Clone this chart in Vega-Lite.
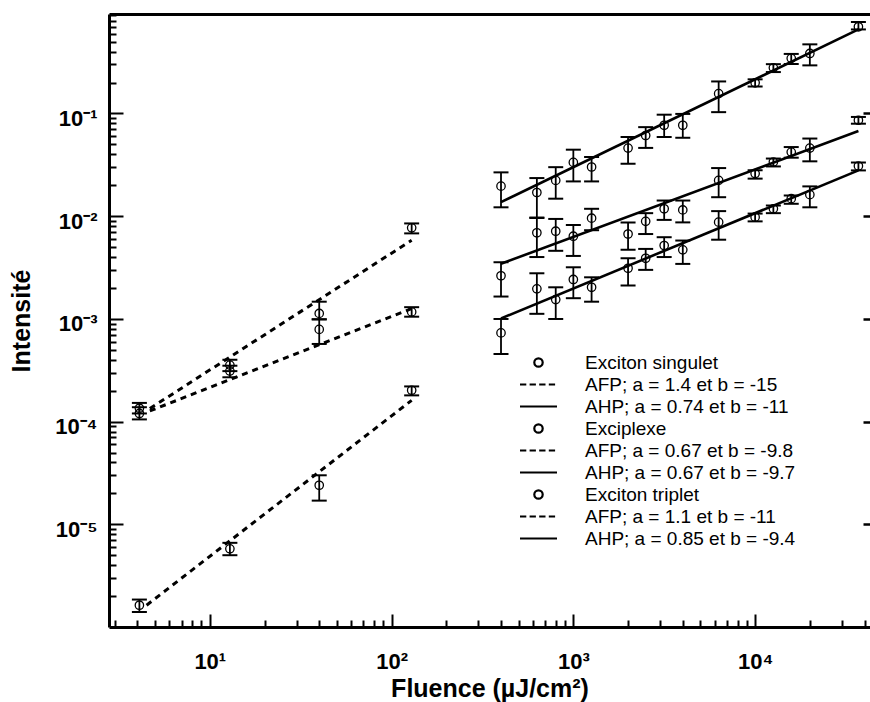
{
  "$schema": "https://vega.github.io/schema/vega-lite/v6.json",
  "autosize": "none",
  "width": 761,
  "height": 613,
  "padding": {"left": 109, "top": 14, "right": 0, "bottom": 75},
  "background": "white",
  "config": {"font": "Liberation Sans", "view": {"stroke": null}},
  "datasets": {
    "pts": [
      {"s": "Exciton singulet", "x": 4.1, "y": 0.000135, "lo": 0.00012, "hi": 0.000152},
      {"s": "Exciton singulet", "x": 12.9, "y": 0.000355, "lo": 0.00031, "hi": 0.0004},
      {"s": "Exciton singulet", "x": 40, "y": 0.00113, "lo": 0.00099, "hi": 0.00147},
      {"s": "Exciton singulet", "x": 129, "y": 0.0077, "lo": 0.0068, "hi": 0.0085},
      {"s": "Exciton singulet", "x": 400, "y": 0.0196, "lo": 0.0122, "hi": 0.0267},
      {"s": "Exciton singulet", "x": 630, "y": 0.017, "lo": 0.0097, "hi": 0.0235},
      {"s": "Exciton singulet", "x": 800, "y": 0.0223, "lo": 0.0148, "hi": 0.03},
      {"s": "Exciton singulet", "x": 1000, "y": 0.0334, "lo": 0.0218, "hi": 0.0444},
      {"s": "Exciton singulet", "x": 1260, "y": 0.0301, "lo": 0.0218, "hi": 0.0377},
      {"s": "Exciton singulet", "x": 2000, "y": 0.046, "lo": 0.0324, "hi": 0.059},
      {"s": "Exciton singulet", "x": 2500, "y": 0.061, "lo": 0.0462, "hi": 0.0736},
      {"s": "Exciton singulet", "x": 3160, "y": 0.0767, "lo": 0.059, "hi": 0.0973},
      {"s": "Exciton singulet", "x": 4000, "y": 0.0767, "lo": 0.058, "hi": 0.099},
      {"s": "Exciton singulet", "x": 6300, "y": 0.156, "lo": 0.103, "hi": 0.205},
      {"s": "Exciton singulet", "x": 10000, "y": 0.199, "lo": 0.183, "hi": 0.215},
      {"s": "Exciton singulet", "x": 12600, "y": 0.278, "lo": 0.253, "hi": 0.302},
      {"s": "Exciton singulet", "x": 15800, "y": 0.344, "lo": 0.303, "hi": 0.38},
      {"s": "Exciton singulet", "x": 20000, "y": 0.384, "lo": 0.294, "hi": 0.471},
      {"s": "Exciton singulet", "x": 37000, "y": 0.698, "lo": 0.658, "hi": 0.777},
      {"s": "Exciplexe", "x": 4.1, "y": 0.00012, "lo": 0.000105, "hi": 0.000138},
      {"s": "Exciplexe", "x": 12.9, "y": 0.00031, "lo": 0.00027, "hi": 0.00035},
      {"s": "Exciplexe", "x": 40, "y": 0.00079, "lo": 0.00057, "hi": 0.00099},
      {"s": "Exciplexe", "x": 129, "y": 0.00117, "lo": 0.00105, "hi": 0.0013},
      {"s": "Exciplexe", "x": 400, "y": 0.00263, "lo": 0.00165, "hi": 0.00356},
      {"s": "Exciplexe", "x": 630, "y": 0.00689, "lo": 0.004, "hi": 0.0096},
      {"s": "Exciplexe", "x": 800, "y": 0.00714, "lo": 0.0046, "hi": 0.0094},
      {"s": "Exciplexe", "x": 1000, "y": 0.00638, "lo": 0.0041, "hi": 0.0082},
      {"s": "Exciplexe", "x": 1260, "y": 0.00956, "lo": 0.0073, "hi": 0.0118},
      {"s": "Exciplexe", "x": 2000, "y": 0.0067, "lo": 0.0047, "hi": 0.0087},
      {"s": "Exciplexe", "x": 2500, "y": 0.0089, "lo": 0.0067, "hi": 0.0107},
      {"s": "Exciplexe", "x": 3160, "y": 0.0118, "lo": 0.0092, "hi": 0.0142},
      {"s": "Exciplexe", "x": 4000, "y": 0.0115, "lo": 0.0087, "hi": 0.0142},
      {"s": "Exciplexe", "x": 6300, "y": 0.0223, "lo": 0.0153, "hi": 0.0294},
      {"s": "Exciplexe", "x": 10000, "y": 0.026, "lo": 0.0232, "hi": 0.028},
      {"s": "Exciplexe", "x": 12600, "y": 0.0337, "lo": 0.0305, "hi": 0.0364},
      {"s": "Exciplexe", "x": 15800, "y": 0.0421, "lo": 0.0371, "hi": 0.0471},
      {"s": "Exciplexe", "x": 20000, "y": 0.046, "lo": 0.0342, "hi": 0.057},
      {"s": "Exciplexe", "x": 37000, "y": 0.0859, "lo": 0.0795, "hi": 0.0925},
      {"s": "Exciton triplet", "x": 4.1, "y": 0.00000163, "lo": 0.0000014, "hi": 0.00000185},
      {"s": "Exciton triplet", "x": 12.9, "y": 0.00000577, "lo": 0.000005, "hi": 0.0000066},
      {"s": "Exciton triplet", "x": 40, "y": 0.000024, "lo": 0.000017, "hi": 0.00003},
      {"s": "Exciton triplet", "x": 129, "y": 0.000202, "lo": 0.00018, "hi": 0.00022},
      {"s": "Exciton triplet", "x": 400, "y": 0.00073, "lo": 0.000455, "hi": 0.000998},
      {"s": "Exciton triplet", "x": 630, "y": 0.00196, "lo": 0.00112, "hi": 0.00278},
      {"s": "Exciton triplet", "x": 800, "y": 0.00154, "lo": 0.000998, "hi": 0.00203},
      {"s": "Exciton triplet", "x": 1000, "y": 0.00242, "lo": 0.00159, "hi": 0.00318},
      {"s": "Exciton triplet", "x": 1260, "y": 0.00203, "lo": 0.00147, "hi": 0.00254},
      {"s": "Exciton triplet", "x": 2000, "y": 0.00311, "lo": 0.00211, "hi": 0.00389},
      {"s": "Exciton triplet", "x": 2500, "y": 0.00389, "lo": 0.003, "hi": 0.0048},
      {"s": "Exciton triplet", "x": 3160, "y": 0.00518, "lo": 0.004, "hi": 0.00624},
      {"s": "Exciton triplet", "x": 4000, "y": 0.0047, "lo": 0.00343, "hi": 0.00579},
      {"s": "Exciton triplet", "x": 6300, "y": 0.00875, "lo": 0.0059, "hi": 0.0112},
      {"s": "Exciton triplet", "x": 10000, "y": 0.00978, "lo": 0.0089, "hi": 0.0106},
      {"s": "Exciton triplet", "x": 12600, "y": 0.0118, "lo": 0.0107, "hi": 0.0127},
      {"s": "Exciton triplet", "x": 15800, "y": 0.0148, "lo": 0.0132, "hi": 0.0159},
      {"s": "Exciton triplet", "x": 20000, "y": 0.0162, "lo": 0.0122, "hi": 0.0195},
      {"s": "Exciton triplet", "x": 37000, "y": 0.0308, "lo": 0.0279, "hi": 0.0333}
    ],
    "fits": [
      {"fit": "AFP singulet", "kind": "AFP", "x": 4.68, "y": 0.000134},
      {"fit": "AFP singulet", "kind": "AFP", "x": 129, "y": 0.00583},
      {"fit": "AFP exciplexe", "kind": "AFP", "x": 4.68, "y": 0.000127},
      {"fit": "AFP exciplexe", "kind": "AFP", "x": 129, "y": 0.00126},
      {"fit": "AFP triplet", "kind": "AFP", "x": 4.49, "y": 0.00000163},
      {"fit": "AFP triplet", "kind": "AFP", "x": 129, "y": 0.000161},
      {"fit": "AHP singulet", "kind": "AHP", "x": 400, "y": 0.0137},
      {"fit": "AHP singulet", "kind": "AHP", "x": 37000, "y": 0.659},
      {"fit": "AHP exciplexe", "kind": "AHP", "x": 400, "y": 0.00344},
      {"fit": "AHP exciplexe", "kind": "AHP", "x": 37000, "y": 0.0675},
      {"fit": "AHP triplet", "kind": "AHP", "x": 400, "y": 0.00101},
      {"fit": "AHP triplet", "kind": "AHP", "x": 37000, "y": 0.0279}
    ]
  },
  "resolve": {"axis": {"x": "independent", "y": "independent"}},
  "layer": [
    {
      "data": {"name": "fits"},
      "transform": [{"filter": "datum.kind === 'AFP'"}],
      "mark": {"type": "line", "color": "black", "strokeWidth": 3, "strokeDash": [6, 5]},
      "encoding": {
        "x": {"field": "x", "type": "quantitative",
          "scale": {"type": "log", "domain": [2.79, 42850], "nice": false},
          "axis": {"orient": "bottom", "values": [10, 100, 1000, 10000], "ticks": false, "grid": false,
            "domain": true, "domainColor": "black", "domainWidth": 3,
            "labelExpr": "'10' + ['⁰','¹','²','³','⁴','⁵','⁶'][round(abs(log(datum.value)/LN10))]",
            "labelFont": "Liberation Sans", "labelFontWeight": "bold", "labelFontSize": 22, "labelColor": "black",
            "labelPadding": 24, "labelFlush": false,
            "title": "Fluence (µJ/cm²)", "titleFont": "Liberation Sans", "titleFontWeight": "bold", "titleFontSize": 25, "titleColor": "black", "titlePadding": 4}},
        "y": {"field": "y", "type": "quantitative",
          "scale": {"type": "log", "domain": [0.000001, 0.93], "nice": false},
          "axis": {"orient": "left", "values": [0.00001, 0.0001, 0.001, 0.01, 0.1], "ticks": false, "grid": false,
            "domain": true, "domainColor": "black", "domainWidth": 3,
            "labelExpr": "'10⁻' + ['⁰','¹','²','³','⁴','⁵','⁶'][round(abs(log(datum.value)/LN10))]",
            "labelFont": "Liberation Sans", "labelFontWeight": "bold", "labelFontSize": 22, "labelColor": "black",
            "labelPadding": 12, "labelOffset": 5, "labelFlush": false,
            "title": "Intensité", "titleFont": "Liberation Sans", "titleFontWeight": "bold", "titleFontSize": 25, "titleColor": "black", "titlePadding": 20}},
        "detail": {"field": "fit"}
      }
    },
    {
      "data": {"name": "fits"},
      "transform": [{"filter": "datum.kind === 'AHP'"}],
      "mark": {"type": "line", "color": "black", "strokeWidth": 2.6},
      "encoding": {
        "x": {"field": "x", "type": "quantitative",
          "scale": {"type": "log", "domain": [2.79, 42850], "nice": false},
          "axis": {"orient": "bottom", "values": [10, 100, 1000, 10000], "labels": false, "domain": false, "grid": false,
            "ticks": true, "tickSize": -13, "tickWidth": 2, "tickColor": "black", "title": null}},
        "y": {"field": "y", "type": "quantitative",
          "scale": {"type": "log", "domain": [0.000001, 0.93], "nice": false},
          "axis": {"orient": "left", "values": [0.00001, 0.0001, 0.001, 0.01, 0.1], "labels": false, "domain": false, "grid": false,
            "ticks": true, "tickSize": -14, "tickWidth": 2, "tickColor": "black", "title": null}},
        "detail": {"field": "fit"}
      }
    },
    {
      "data": {"name": "pts"},
      "mark": {"type": "rule", "color": "black", "strokeWidth": 1.8, "opacity": 1},
      "encoding": {
        "x": {"field": "x", "type": "quantitative",
          "scale": {"type": "log", "domain": [2.79, 42850], "nice": false},
          "axis": {"orient": "bottom", "values": [3, 4, 5, 6, 7, 8, 9, 20, 30, 40, 50, 60, 70, 80, 90, 200, 300, 400, 500, 600, 700, 800, 900, 2000, 3000, 4000, 5000, 6000, 7000, 8000, 9000, 20000, 30000, 40000],
            "labels": false, "domain": false, "grid": false, "ticks": true, "tickSize": -7, "tickWidth": 2, "tickColor": "black", "title": null}},
        "y": {"field": "lo", "type": "quantitative",
          "scale": {"type": "log", "domain": [0.000001, 0.93], "nice": false},
          "axis": {"orient": "left", "values": [0.000002, 0.000003, 0.000004, 0.000005, 0.000006, 0.000007, 0.000008, 0.000009, 0.00002, 0.00003, 0.00004, 0.00005, 0.00006, 0.00007, 0.00008, 0.00009, 0.0002, 0.0003, 0.0004, 0.0005, 0.0006, 0.0007, 0.0008, 0.0009, 0.002, 0.003, 0.004, 0.005, 0.006, 0.007, 0.008, 0.009, 0.02, 0.03, 0.04, 0.05, 0.06, 0.07, 0.08, 0.09, 0.2, 0.3, 0.4, 0.5, 0.6, 0.7, 0.8, 0.9],
            "labels": false, "domain": false, "grid": false, "ticks": true, "tickSize": -7, "tickWidth": 2, "tickColor": "black", "title": null}},
        "y2": {"field": "hi"}
      }
    },
    {
      "data": {"name": "pts"},
      "mark": {"type": "tick", "orient": "horizontal", "color": "black", "size": 15, "thickness": 2, "opacity": 1},
      "encoding": {
        "x": {"field": "x", "type": "quantitative",
          "scale": {"type": "log", "domain": [2.79, 42850], "nice": false},
          "axis": {"orient": "top", "values": [], "labels": false, "ticks": false, "grid": false, "domain": true, "domainColor": "black", "domainWidth": 3, "title": null}},
        "y": {"field": "hi", "type": "quantitative",
          "scale": {"type": "log", "domain": [0.000001, 0.93], "nice": false},
          "axis": {"orient": "right", "values": [0.00001, 0.0001, 0.001, 0.01, 0.1], "labels": false, "domain": false, "grid": false,
            "ticks": true, "tickSize": -7, "tickWidth": 2.5, "tickColor": "black", "title": null}}
      }
    },
    {
      "data": {"name": "pts"},
      "mark": {"type": "tick", "orient": "horizontal", "color": "black", "size": 15, "thickness": 2, "opacity": 1},
      "encoding": {
        "x": {"field": "x", "type": "quantitative", "scale": {"type": "log", "domain": [2.79, 42850], "nice": false}, "axis": null},
        "y": {"field": "lo", "type": "quantitative", "scale": {"type": "log", "domain": [0.000001, 0.93], "nice": false}, "axis": null}
      }
    },
    {
      "data": {"name": "pts"},
      "mark": {"type": "point", "filled": false, "stroke": "black", "strokeWidth": 1.3, "size": 400, "fill": "transparent", "opacity": 1},
      "encoding": {
        "x": {"field": "x", "type": "quantitative", "scale": {"type": "log", "domain": [2.79, 42850], "nice": false}, "axis": null},
        "y": {"field": "y", "type": "quantitative", "scale": {"type": "log", "domain": [0.000001, 0.93], "nice": false}, "axis": null},
        "shape": {"field": "s", "type": "nominal",
          "scale": {
            "domain": ["Exciton singulet", "AFP; a = 1.4 et b = -15", "AHP; a = 0.74 et b = -11", "Exciplexe", "AFP; a = 0.67 et b = -9.8", "AHP; a = 0.67 et b = -9.7", "Exciton triplet", "AFP; a = 1.1 et b = -11", "AHP; a = 0.85 et b = -9.4"],
            "range": [
              "M0.42,0A0.42,0.42,0,1,1,-0.42,0A0.42,0.42,0,1,1,0.42,0Z",
              "M-1.85,0H-1.22M-0.89,0H-0.26M0.07,0H0.7M1.03,0H1.66",
              "M-1.85,0H1.85",
              "M0.42,0A0.42,0.42,0,1,1,-0.42,0A0.42,0.42,0,1,1,0.42,0Z",
              "M-1.85,0H-1.22M-0.89,0H-0.26M0.07,0H0.7M1.03,0H1.66",
              "M-1.85,0H1.85",
              "M0.42,0A0.42,0.42,0,1,1,-0.42,0A0.42,0.42,0,1,1,0.42,0Z",
              "M-1.85,0H-1.22M-0.89,0H-0.26M0.07,0H0.7M1.03,0H1.66",
              "M-1.85,0H1.85"
            ]},
          "legend": {"title": null, "orient": "none", "legendX": 418, "legendY": 337, "padding": 0,
            "symbolSize": 400, "symbolStrokeColor": "black", "symbolStrokeWidth": 2.2, "symbolFillColor": "transparent", "symbolOpacity": 1,
            "labelFont": "Liberation Sans", "labelFontSize": 19, "labelColor": "black", "labelOffset": 35, "labelLimit": 400, "rowPadding": -1}
        }
      }
    }
  ]
}
